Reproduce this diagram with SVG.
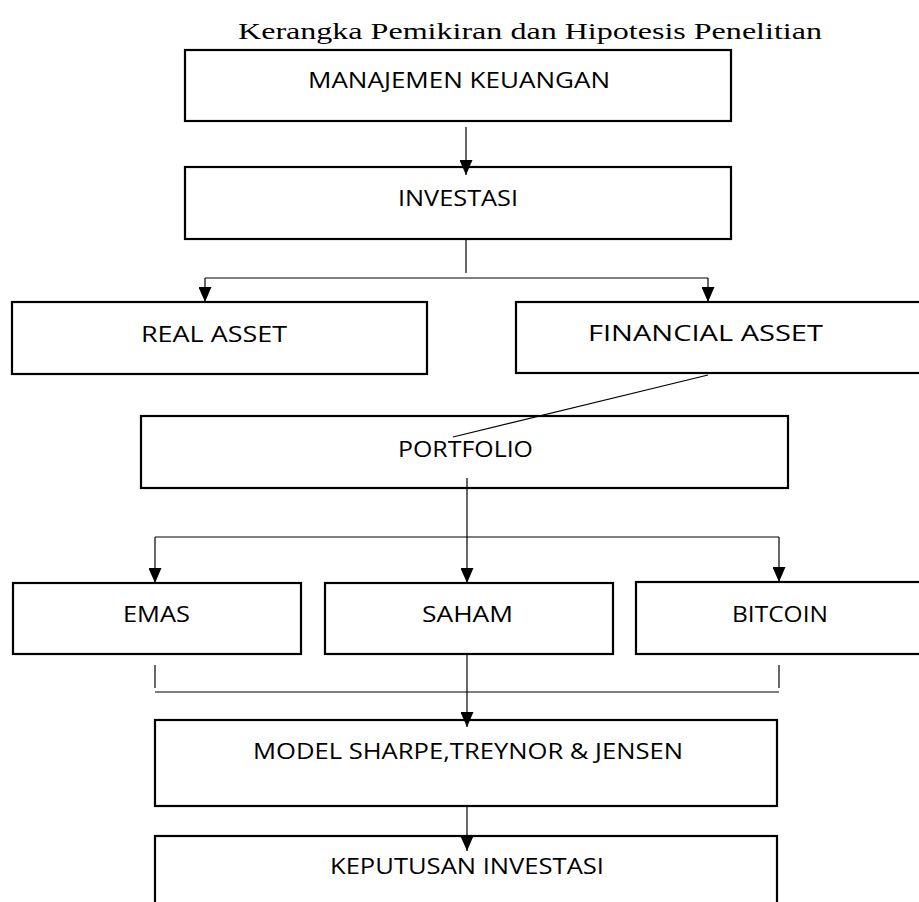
<svg xmlns="http://www.w3.org/2000/svg" width="919" height="902" viewBox="0 0 919 902">
<style>
.box{fill:#fff;stroke:#000;stroke-width:2.2}
.lbl{font-family:"Open Sans","Noto Sans",sans-serif;font-size:21px;fill:#000}
.con{fill:none;stroke:#000;stroke-width:1.2}
.title{font-family:"Liberation Serif","Times New Roman",serif;font-size:24px;fill:#000}
</style>
<defs>
<marker id="ad" markerUnits="userSpaceOnUse" markerWidth="13" markerHeight="16" refX="6.5" refY="15" viewBox="0 0 13 16">
<path d="M0,0 L13,0 L6.5,15 Z" fill="#000"/>
</marker>
</defs>
<rect width="919" height="902" fill="#fff"/>
<text class="title" x="238" y="39" textLength="584" lengthAdjust="spacingAndGlyphs">Kerangka Pemikiran dan Hipotesis Penelitian</text>

<g id="n-manajemen"><rect class="box" x="185" y="50" width="546" height="71"/><text class="lbl" x="308" y="88" textLength="302" lengthAdjust="spacingAndGlyphs">MANAJEMEN KEUANGAN</text></g>
<g id="n-investasi"><rect class="box" x="185" y="167" width="546" height="72"/><text class="lbl" x="398" y="206" textLength="120" lengthAdjust="spacingAndGlyphs">INVESTASI</text></g>
<g id="n-real"><rect class="box" x="12" y="302" width="415" height="72"/><text class="lbl" x="141" y="342" textLength="146" lengthAdjust="spacingAndGlyphs">REAL ASSET</text></g>
<g id="n-financial"><rect class="box" x="516" y="302" width="420" height="71"/><text class="lbl" x="588" y="341" textLength="235" lengthAdjust="spacingAndGlyphs">FINANCIAL ASSET</text></g>
<g id="n-portfolio"><rect class="box" x="141" y="416" width="647" height="72"/><text class="lbl" x="398" y="457" textLength="135" lengthAdjust="spacingAndGlyphs">PORTFOLIO</text></g>
<g id="n-emas"><rect class="box" x="13" y="583" width="288" height="71"/><text class="lbl" x="123" y="622" textLength="67" lengthAdjust="spacingAndGlyphs">EMAS</text></g>
<g id="n-saham"><rect class="box" x="325" y="583" width="288" height="71"/><text class="lbl" x="422" y="622" textLength="91" lengthAdjust="spacingAndGlyphs">SAHAM</text></g>
<g id="n-bitcoin"><rect class="box" x="636" y="582" width="300" height="72"/><text class="lbl" x="732" y="622" textLength="96" lengthAdjust="spacingAndGlyphs">BITCOIN</text></g>
<g id="n-model"><rect class="box" x="155" y="720" width="622" height="86"/><text class="lbl" x="253" y="759" textLength="430" lengthAdjust="spacingAndGlyphs">MODEL SHARPE,TREYNOR &amp; JENSEN</text></g>
<g id="n-keputusan"><rect class="box" x="155" y="836" width="622" height="80"/><text class="lbl" x="330" y="874" textLength="274" lengthAdjust="spacingAndGlyphs">KEPUTUSAN INVESTASI</text></g>

<g id="connectors">
<line class="con" x1="466" y1="127" x2="466" y2="175" marker-end="url(#ad)"/>
<line class="con" x1="466" y1="239" x2="466" y2="273"/>
<line class="con" x1="205" y1="278" x2="708" y2="278"/>
<line class="con" x1="205" y1="278" x2="205" y2="302" marker-end="url(#ad)"/>
<line class="con" x1="708" y1="278" x2="708" y2="302" marker-end="url(#ad)"/>
<line class="con" x1="708" y1="375" x2="453" y2="437"/>
<line class="con" x1="467" y1="478" x2="467" y2="583" marker-end="url(#ad)"/>
<line class="con" x1="155" y1="537" x2="779" y2="537"/>
<line class="con" x1="155" y1="537" x2="155" y2="583" marker-end="url(#ad)"/>
<line class="con" x1="779" y1="537" x2="779" y2="582" marker-end="url(#ad)"/>
<line class="con" x1="155" y1="665" x2="155" y2="688"/>
<line class="con" x1="779" y1="665" x2="779" y2="688"/>
<line class="con" x1="155" y1="692" x2="779" y2="692"/>
<line class="con" x1="467" y1="654" x2="467" y2="727" marker-end="url(#ad)"/>
<line class="con" x1="467" y1="806" x2="467" y2="851" marker-end="url(#ad)"/>
</g>
</svg>
